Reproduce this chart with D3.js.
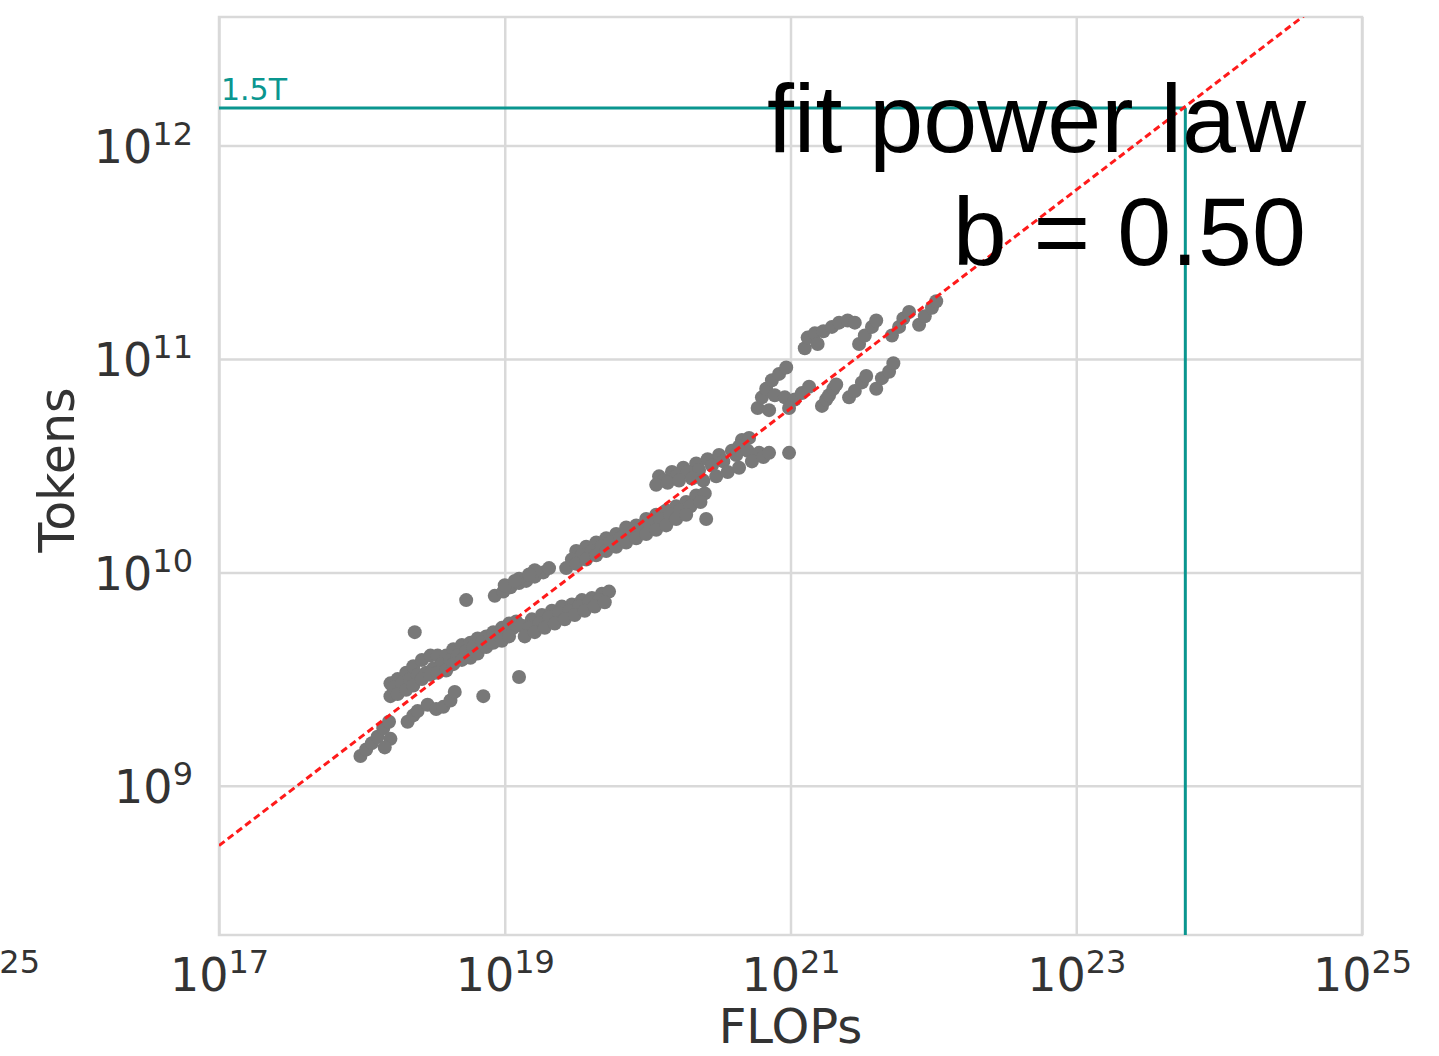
<!DOCTYPE html>
<html>
<head>
<meta charset="utf-8">
<script src="https://cdn.jsdelivr.net/npm/d3@7"></script>
<style>
  html, body { margin: 0; padding: 0; background: #fff; }
  svg { display: block; }
</style>
</head>
<body>
<div class="canvas"></div>
<script>
// runs as [log10 FLOPs, log10 tokens]
const lowRuns = [
  [17.99, 9.14], [18.03, 9.17], [18.07, 9.20], [18.11, 9.23], [18.15, 9.27], [18.19, 9.30], [18.20, 9.22], [18.16, 9.18],
  [18.32, 9.30], [18.36, 9.33], [18.39, 9.35], [18.46, 9.38], [18.52, 9.36], [18.57, 9.37], [18.62, 9.40], [18.65, 9.44],
  [18.85, 9.42], [19.10, 9.51], [18.37, 9.72], [18.73, 9.87],
  [18.20, 9.48], [18.25, 9.50], [18.31, 9.53], [18.36, 9.56], [18.42, 9.59], [18.48, 9.61], [18.53, 9.61], [18.59, 9.61],
  [18.64, 9.64], [18.70, 9.66], [18.76, 9.67], [18.81, 9.69], [18.87, 9.70], [18.92, 9.72], [18.98, 9.74], [19.03, 9.76], [19.08, 9.77],
  [18.22, 9.46], [18.28, 9.48], [18.34, 9.50], [18.39, 9.52], [18.45, 9.53], [18.50, 9.55], [18.56, 9.57], [18.62, 9.59],
  [18.67, 9.61], [18.73, 9.63], [18.78, 9.65], [18.84, 9.67], [18.90, 9.68], [18.95, 9.70], [19.01, 9.72], [19.06, 9.74],
  [18.20, 9.42], [18.25, 9.43], [18.31, 9.45], [18.36, 9.47], [18.42, 9.50], [18.48, 9.52], [18.53, 9.53], [18.59, 9.54],
  [18.64, 9.57], [18.70, 9.59], [18.76, 9.60], [18.81, 9.62], [18.87, 9.65], [18.92, 9.67], [18.98, 9.68], [19.03, 9.70]
];
const midRuns = [
  [18.93, 9.89], [18.99, 9.91], [19.04, 9.93], [19.10, 9.95], [19.15, 9.96], [19.21, 9.98], [19.27, 10.00], [19.31, 10.02],
  [19.00, 9.94], [19.10, 9.97], [19.21, 10.01], [19.07, 9.96], [19.17, 9.99],
  [19.12, 9.75], [19.19, 9.78], [19.26, 9.80], [19.33, 9.82], [19.40, 9.84], [19.47, 9.85], [19.54, 9.87], [19.61, 9.88], [19.68, 9.90], [19.73, 9.91],
  [19.17, 9.74], [19.24, 9.76], [19.31, 9.79], [19.38, 9.81], [19.45, 9.82], [19.52, 9.84], [19.59, 9.86], [19.66, 9.87],
  [19.14, 9.70], [19.21, 9.72], [19.28, 9.74], [19.35, 9.76], [19.42, 9.78], [19.49, 9.80], [19.56, 9.82], [19.63, 9.84], [19.70, 9.86],
  [19.50, 10.10], [19.57, 10.12], [19.64, 10.14], [19.71, 10.16], [19.78, 10.18], [19.85, 10.21], [19.92, 10.22],
  [19.99, 10.25], [20.06, 10.27], [20.13, 10.29], [20.20, 10.31], [20.27, 10.33], [20.34, 10.36], [20.40, 10.37],
  [19.47, 10.06], [19.54, 10.08], [19.61, 10.10], [19.68, 10.12], [19.74, 10.14], [19.81, 10.16], [19.88, 10.18],
  [19.95, 10.21], [20.02, 10.22], [20.09, 10.25], [20.16, 10.27], [20.23, 10.29], [20.30, 10.31], [20.37, 10.33],
  [19.43, 10.02], [19.50, 10.04], [19.57, 10.06], [19.64, 10.08], [19.71, 10.10], [19.78, 10.12], [19.85, 10.14],
  [19.92, 10.16], [19.99, 10.18], [20.06, 10.20], [20.13, 10.22], [20.20, 10.25], [20.27, 10.27], [20.41, 10.25]
];
const highRuns = [
  [20.08, 10.45], [20.17, 10.47], [20.25, 10.49], [20.34, 10.51], [20.42, 10.53], [20.50, 10.55], [20.59, 10.57], [20.66, 10.62], [20.71, 10.63], [20.64, 10.59],
  [20.11, 10.43], [20.20, 10.45], [20.28, 10.47], [20.36, 10.48], [20.45, 10.50], [20.53, 10.52], [20.62, 10.55], [20.70, 10.57], [20.78, 10.56],
  [20.06, 10.41], [20.14, 10.42], [20.22, 10.43], [20.31, 10.44], [20.39, 10.43], [20.48, 10.45], [20.56, 10.47], [20.64, 10.49], [20.73, 10.52], [20.81, 10.54], [20.85, 10.56],
  [20.99, 10.56],
  [20.77, 10.77], [20.80, 10.82], [20.83, 10.86], [20.87, 10.90], [20.92, 10.93], [20.97, 10.96], [20.89, 10.83], [20.96, 10.82],
  [21.03, 10.81], [21.08, 10.84], [21.13, 10.87], [20.99, 10.77], [20.85, 10.76],
  [21.22, 10.78], [21.25, 10.81], [21.27, 10.83], [21.30, 10.86], [21.32, 10.88],
  [21.41, 10.82], [21.45, 10.85], [21.50, 10.89], [21.53, 10.92],
  [21.60, 10.86], [21.64, 10.91], [21.69, 10.94], [21.72, 10.98],
  [21.10, 11.05], [21.12, 11.10], [21.17, 11.12], [21.23, 11.13], [21.29, 11.15], [21.34, 11.17], [21.40, 11.18], [21.45, 11.17], [21.19, 11.07],
  [21.48, 11.07], [21.52, 11.11], [21.57, 11.15], [21.60, 11.18],
  [21.71, 11.11], [21.76, 11.15], [21.79, 11.19], [21.83, 11.22],
  [21.90, 11.16], [21.94, 11.20], [21.99, 11.24], [22.02, 11.27]
];

const xTicks = [1e17, 1e19, 1e21, 1e23, 1e25];
const yTicks = [1e9, 1e10, 1e11, 1e12];
const xDomain = [1e17, 1e25];
const yDomain = [2e8, 4e12];

// power law fit: tokens = 10^fitLogCoef * FLOPs^fitExponent
const fitExponent = 0.512;
const fitLogCoef = 0.016;
const fitLabel = ['fit power law', 'b = 0.50'];

const budgetTokens = 1.5e12;
const budgetFlops = 5.8e23;
const budgetLabel = '1.5T';

const dims = { width: 1439, height: 1056 };
const plot = { left: 219, right: 1362, top: 17, bottom: 935 };

const teal = '#0a968f';
const grid = '#d9d9d9';
const ink = '#333';

const svg = d3.select('.canvas').append('svg')
    .attr('width', dims.width)
    .attr('height', dims.height);

const x = d3.scaleLog().domain(xDomain).range([plot.left, plot.right]);
const y = d3.scaleLog().domain(yDomain).range([plot.bottom, plot.top]);

const supLabel = (sel, d) => {
    sel.text(null);
    sel.append('tspan').text('10');
    sel.append('tspan')
        .attr('font-size', 32)
        .attr('dy', -18)
        .text(Math.round(Math.log10(d)));
};

// x grid + labels
svg.append('g')
    .attr('transform', `translate(0,${plot.bottom})`)
    .call(d3.axisBottom(x).tickValues(xTicks).tickSize(-(plot.bottom - plot.top)))
    .call(g => g.select('.domain').remove())
    .call(g => g.selectAll('.tick line').attr('stroke', grid).attr('stroke-width', 2.5))
    .call(g => g.selectAll('.tick text')
        .attr('y', 56).attr('dy', 0)
        .attr('fill', ink)
        .attr('font-family', 'DejaVu Sans')
        .attr('font-size', 46)
        .attr('text-anchor', 'middle')
        .each(function(d) { supLabel(d3.select(this), d); }));

// y grid + labels
svg.append('g')
    .attr('transform', `translate(${plot.left},0)`)
    .call(d3.axisLeft(y).tickValues(yTicks).tickSize(-(plot.right - plot.left)))
    .call(g => g.select('.domain').remove())
    .call(g => g.selectAll('.tick line').attr('stroke', grid).attr('stroke-width', 2.5))
    .call(g => g.selectAll('.tick text')
        .attr('x', -26).attr('dy', 17)
        .attr('fill', ink)
        .attr('font-family', 'DejaVu Sans')
        .attr('font-size', 46)
        .attr('text-anchor', 'end')
        .each(function(d) { supLabel(d3.select(this), d); }));

// frame
svg.append('rect')
    .attr('x', plot.left).attr('y', plot.top)
    .attr('width', plot.right - plot.left)
    .attr('height', plot.bottom - plot.top)
    .attr('fill', 'none')
    .attr('stroke', grid)
    .attr('stroke-width', 2.5);

svg.append('clipPath').attr('id', 'plot-clip')
    .append('rect')
    .attr('x', plot.left).attr('y', plot.top)
    .attr('width', plot.right - plot.left)
    .attr('height', plot.bottom - plot.top);

const body = svg.append('g').attr('clip-path', 'url(#plot-clip)');

// runs
const runs = [...lowRuns, ...midRuns, ...highRuns];
body.append('g')
    .selectAll('circle')
    .data(runs)
    .enter()
    .append('circle')
    .attr('cx', d => x(Math.pow(10, d[0])))
    .attr('cy', d => y(Math.pow(10, d[1])))
    .attr('r', 7)
    .attr('fill', '#787878');

// 1.5T budget lines
body.append('line')
    .attr('x1', plot.left).attr('x2', x(budgetFlops))
    .attr('y1', y(budgetTokens)).attr('y2', y(budgetTokens))
    .attr('stroke', teal).attr('stroke-width', 3);
body.append('line')
    .attr('x1', x(budgetFlops)).attr('x2', x(budgetFlops))
    .attr('y1', y(budgetTokens)).attr('y2', plot.bottom)
    .attr('stroke', teal).attr('stroke-width', 3);

svg.append('text')
    .attr('x', plot.left + 2)
    .attr('y', y(budgetTokens) - 8)
    .attr('font-family', 'DejaVu Sans')
    .attr('font-size', 30)
    .attr('fill', teal)
    .text(budgetLabel);

// fitted line
const fitLine = d3.line()
    .x(c => x(c))
    .y(c => y(Math.pow(10, fitLogCoef + fitExponent * Math.log10(c))));

body.append('path')
    .attr('d', fitLine(xDomain))
    .attr('fill', 'none')
    .attr('stroke', '#ff1a1a')
    .attr('stroke-width', 3)
    .attr('stroke-dasharray', '7,4');

// axis titles
svg.append('text')
    .attr('x', (plot.left + plot.right) / 2)
    .attr('y', 1043)
    .attr('text-anchor', 'middle')
    .attr('font-family', 'DejaVu Sans')
    .attr('font-size', 48)
    .attr('fill', ink)
    .text('FLOPs');

svg.append('text')
    .attr('transform', 'translate(74,470) rotate(-90)')
    .attr('text-anchor', 'middle')
    .attr('font-family', 'DejaVu Sans')
    .attr('font-size', 49)
    .attr('fill', ink)
    .text('Tokens');

// leftover tick from the neighbouring panel
svg.append('text')
    .attr('x', 40).attr('y', 973)
    .attr('text-anchor', 'end')
    .attr('font-family', 'DejaVu Sans')
    .attr('font-size', 32)
    .attr('fill', ink)
    .text('25');

// annotation
svg.append('g')
    .selectAll('text')
    .data(fitLabel)
    .enter()
    .append('text')
    .attr('x', 1306)
    .attr('y', (d, i) => 152 + i * 113)
    .attr('text-anchor', 'end')
    .attr('font-family', 'Liberation Sans, Arial, sans-serif')
    .attr('font-size', 97)
    .attr('fill', '#000')
    .text(d => d);
</script>
</body>
</html>
